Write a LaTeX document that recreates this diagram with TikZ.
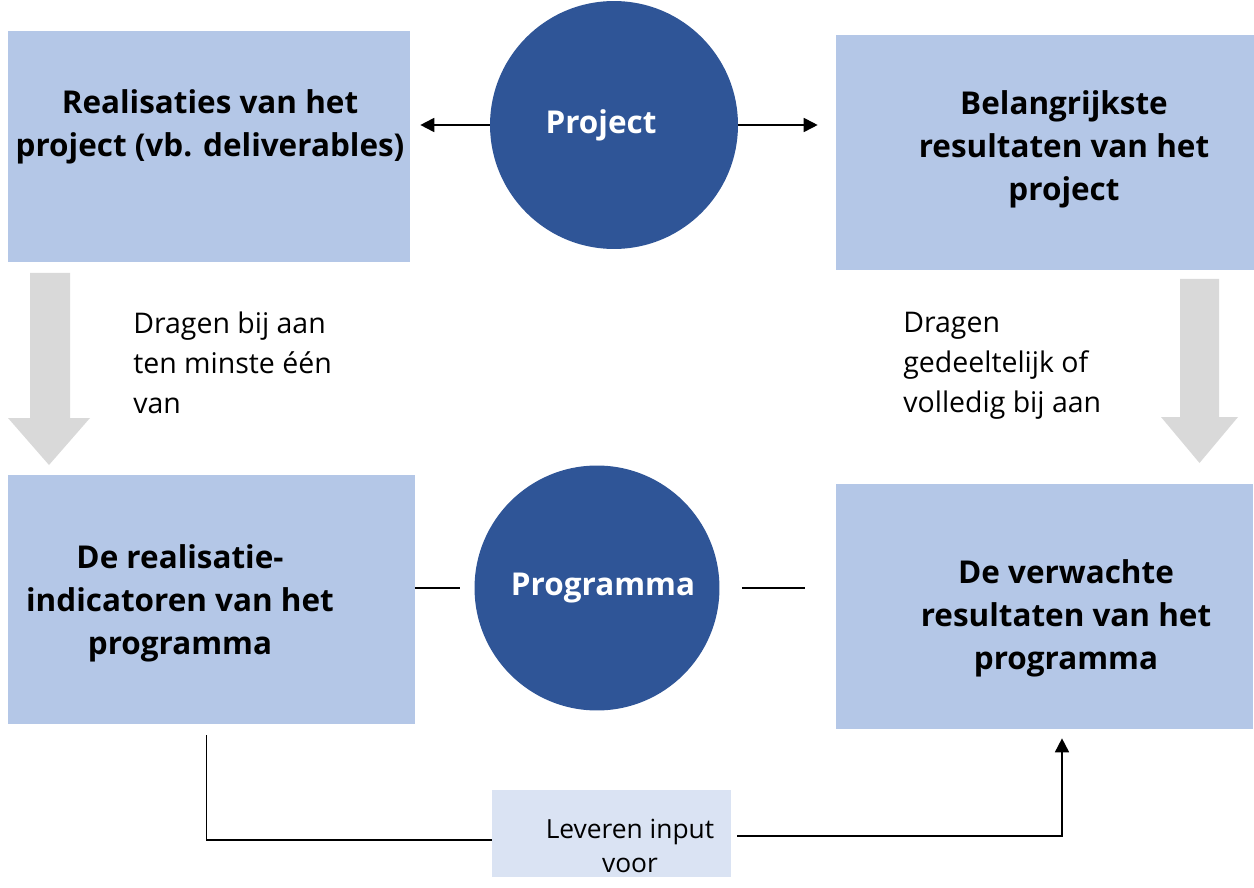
\documentclass[tikz,border=0pt]{standalone}
\usepackage{fontspec}
\setmainfont{Open Sans}
\usetikzlibrary{arrows.meta}
\definecolor{boxblue}{HTML}{B4C7E7}
\definecolor{discblue}{HTML}{2F5597}
\definecolor{paleblue}{HTML}{DAE3F3}
\definecolor{blockgray}{HTML}{D9D9D9}
\tikzset{
  box/.style={fill=boxblue, inner sep=0pt},
  boxtext/.style={align=center, inner sep=0pt, font=\fontsize{17.9}{24.4}\selectfont\bfseries},
  disc/.style={circle, fill=discblue, text=white, inner sep=0pt, font=\fontsize{17.9}{24.4}\selectfont\bfseries},
  note/.style={align=left, anchor=west, inner sep=0pt, font=\fontsize{16.2}{22.7}\selectfont},
  link/.style={line width=1pt},
  tip/.style={-{Triangle[length=0.28cm,width=0.28cm]}},
  block/.style={fill=blockgray},
}
\begin{document}
\begin{tikzpicture}[x=0.02cm, y=-0.02cm]
  \useasboundingbox (0,0) rectangle (1254,888);
  % boxes
  \node[box, minimum width=8.04cm, minimum height=4.62cm] (tl) at (209,146.5) {};
  \node[box, minimum width=8.36cm, minimum height=4.7cm] (tr) at (1045,152.5) {};
  \node[box, minimum width=8.14cm, minimum height=4.98cm] (bl) at (211.5,599.5) {};
  \node[box, minimum width=8.34cm, minimum height=4.9cm] (br) at (1044.5,606.5) {};
  \node[box, fill=paleblue, minimum width=4.78cm, minimum height=1.74cm] (lev) at (611.5,833.5) {};
  \node[boxtext] (tltext) at (210,127) {Realisaties van het\\project (vb. deliverables)};
  \node[boxtext] (trtext) at (1064,149) {Belangrijkste\\resultaten van het\\project};
  \node[boxtext] (bltext) at (180,603) {De realisatie-\\indicatoren van het\\programma};
  \node[boxtext] (brtext) at (1066,618) {De verwachte\\resultaten van het\\programma};
  \node[align=center, inner sep=0pt, font=\fontsize{15}{19.3}\selectfont] (levtext) at (630,846) {Leveren input\\voor};
  % circles
  \node[disc, minimum size=4.96cm] (project) at (614,125) {Project\hspace*{0.52cm}};
  \node[disc, minimum size=4.9cm] (programma) at (597,588) {\hspace*{0.24cm}Programma};
  % notes
  \node[note] (leftnote) at (133,363) {Dragen bij aan\\ten minste één\\van};
  \node[note] (rightnote) at (903,366) {Dragen\\gedeeltelijk of\\volledig bij aan};
  % block arrows
  \fill[block] (30,273) -- (70,273) -- (70,418) -- (90,418) -- (49,465) -- (8,418) -- (30,418) -- cycle;
  \fill[block] (1180,279) -- (1219,279) -- (1219,417) -- (1238,417) -- (1199.5,463) -- (1161,417) -- (1180,417) -- cycle;
  % connectors
  \begin{scope}[link]
    \draw[tip, shorten >=0.2cm] (project.west) -- (project.west -| tl.east);
    \draw[tip, shorten >=0.36cm] (project.east) -- (project.east -| tr.west);
    \draw[shorten >=0.28cm] (programma.west -| bl.east) -- (programma.west);
    \draw[shorten <=0.44cm, shorten >=0.62cm] (programma.east) -- (programma.east -| br.west);
    \draw[shorten <=0.22cm] ([xshift=-0.1cm]bl.south) |- ([yshift=-0.13cm]lev.west);
    \draw[tip, shorten <=0.12cm, shorten >=0.18cm] ([yshift=-0.05cm]lev.east) -| ([xshift=0.35cm]br.south);
  \end{scope}
\end{tikzpicture}
\end{document}
